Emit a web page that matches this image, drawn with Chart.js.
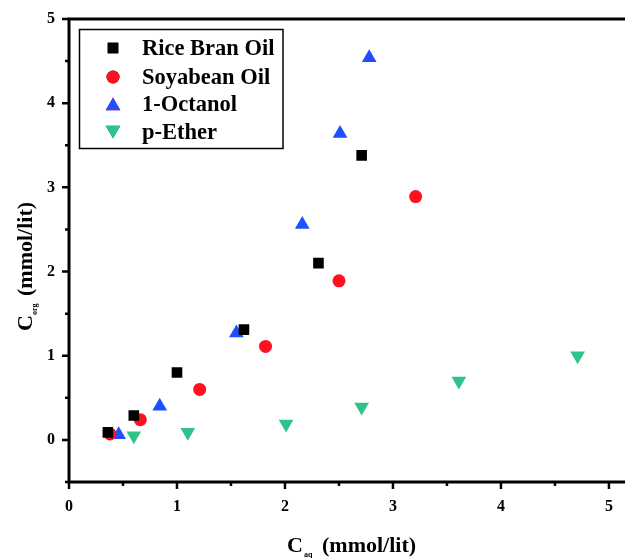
<!DOCTYPE html>
<html>
<head>
<meta charset="utf-8">
<script src="https://cdn.jsdelivr.net/npm/chart.js@4.4.1/dist/chart.umd.min.js"></script>
<style>
  html, body { margin: 0; padding: 0; background: #fff; overflow: hidden; }
  #wrap { width: 625px; height: 558px; position: relative; }
</style>
</head>
<body>
<div id="wrap"><canvas id="chart" width="625" height="558"></canvas></div>
<script>
// data
const riceX = [0.36, 0.60, 1.00, 1.62, 2.31, 2.71];
const riceY = [0.09, 0.29, 0.80, 1.31, 2.10, 3.38];
const soyX = [0.38, 0.66, 1.21, 1.82, 2.50, 3.21];
const soyY = [0.07, 0.24, 0.60, 1.11, 1.89, 2.89];
const octX = [0.46, 0.84, 1.55, 2.16, 2.51, 2.78];
const octY = [0.06, 0.40, 1.27, 2.56, 3.64, 4.54];
const etherX = [0.60, 1.10, 2.01, 2.71, 3.61, 4.71];
const etherY = [0.05, 0.09, 0.19, 0.39, 0.70, 1.00];

const seriesNames = ["Rice Bran Oil", "Soyabean Oil", "1-Octanol", "p-Ether"];
const xTicks = [0, 1, 2, 3, 4, 5];
const yTicks = [0, 1, 2, 3, 4, 5];
const xMinor = [0.5, 1.5, 2.5, 3.5, 4.5];
const yMinor = [-0.5, 0.5, 1.5, 2.5, 3.5, 4.5];

const serif = "'Liberation Serif', 'Times New Roman', serif";

function pts(xs, ys) {
    return xs.map((x, i) => ({ x: x, y: ys[i] }));
}

// frame, tick marks, axis titles and boxed legend
const extras = {
    id: "extras",
    afterDraw(chart) {
        const ctx = chart.ctx;
        const a = chart.chartArea;
        const xs = chart.scales.x;
        const ys = chart.scales.y;
        ctx.save();
        ctx.strokeStyle = "#000";
        ctx.lineWidth = 3;
        ctx.beginPath();
        ctx.moveTo(a.left, a.top);
        ctx.lineTo(chart.width, a.top);
        ctx.moveTo(a.left, a.top - 1.5);
        ctx.lineTo(a.left, a.bottom);
        ctx.lineTo(chart.width, a.bottom);
        ctx.stroke();

        ctx.lineWidth = 2.5;
        ctx.beginPath();
        xTicks.forEach(v => {
            const p = xs.getPixelForValue(v);
            ctx.moveTo(p, a.bottom); ctx.lineTo(p, a.bottom + 7);
        });
        xMinor.forEach(v => {
            const p = xs.getPixelForValue(v);
            ctx.moveTo(p, a.bottom); ctx.lineTo(p, a.bottom + 4);
        });
        yTicks.forEach(v => {
            const p = ys.getPixelForValue(v);
            ctx.moveTo(a.left, p); ctx.lineTo(a.left - 7, p);
        });
        yMinor.forEach(v => {
            const p = ys.getPixelForValue(v);
            ctx.moveTo(a.left, p); ctx.lineTo(a.left - 4, p);
        });
        ctx.stroke();

        // x title
        ctx.fillStyle = "#000";
        ctx.textBaseline = "alphabetic";
        ctx.textAlign = "left";
        ctx.font = "bold 22px " + serif;
        ctx.fillText("C", 287, 552);
        ctx.font = "bold 8px " + serif;
        ctx.fillText("aq", 304, 557);
        ctx.font = "bold 22px " + serif;
        ctx.fillText("(mmol/lit)", 322, 552);

        // y title
        ctx.save();
        ctx.translate(32, 0);
        ctx.rotate(-Math.PI / 2);
        ctx.font = "bold 22px " + serif;
        ctx.fillText("C", -331, 0);
        ctx.font = "bold 8px " + serif;
        ctx.fillText("org", -315, 5);
        ctx.font = "bold 22px " + serif;
        ctx.fillText("(mmol/lit)", -296, 0);
        ctx.restore();

        // legend
        ctx.lineWidth = 1.5;
        ctx.strokeRect(79.5, 29.5, 203.5, 119);
        const rows = [48, 77, 104, 132];
        chart.data.datasets.forEach((ds, i) => {
            Chart.helpers.drawPoint(ctx, {
                pointStyle: ds.pointStyle,
                radius: ds.pointRadius,
                rotation: ds.rotation || 0,
                borderWidth: 0
            }, 113, rows[i] + (ds.pointStyle === "triangle" ? (ds.rotation ? -2 : 2) : 0));
            ctx.fillStyle = ds.backgroundColor;
            ctx.fill();
        });
        ctx.fillStyle = "#000";
        ctx.font = "bold 22.5px " + serif;
        ctx.textBaseline = "middle";
        seriesNames.forEach((n, i) => {
            ctx.fillText(n, 142, rows[i] + 1);
        });
        ctx.restore();
    }
};

new Chart(document.getElementById("chart"), {
    type: "scatter",
    data: {
        datasets: [
            { label: seriesNames[0], data: pts(riceX, riceY), pointStyle: "rect", pointRadius: 7.5,
              backgroundColor: "#000000", borderWidth: 0 },
            { label: seriesNames[1], data: pts(soyX, soyY), pointStyle: "circle", pointRadius: 6.5,
              backgroundColor: "#ff1020", borderWidth: 0 },
            { label: seriesNames[2], data: pts(octX, octY), pointStyle: "triangle", pointRadius: 8.5,
              backgroundColor: "#1e50ff", borderWidth: 0 },
            { label: seriesNames[3], data: pts(etherX, etherY), pointStyle: "triangle", rotation: 180, pointRadius: 8.5,
              backgroundColor: "#2ec489", borderWidth: 0 }
        ]
    },
    options: {
        responsive: false,
        animation: false,
        maintainAspectRatio: false,
        layout: { padding: { top: 19, right: 0, left: 0, bottom: 0 } },
        plugins: {
            legend: { display: false },
            tooltip: { enabled: false }
        },
        elements: { point: { hoverRadius: 8 } },
        scales: {
            x: {
                type: "linear",
                min: 0,
                max: 5.07,
                grid: { display: false },
                border: { display: false },
                afterBuildTicks: s => { s.ticks = xTicks.map(v => ({ value: v })); },
                afterFit: s => { s.height = 76; },
                ticks: {
                    color: "#000",
                    padding: 7,
                    maxRotation: 0,
                    font: { family: serif, size: 16, weight: "bold" }
                }
            },
            y: {
                type: "linear",
                min: -0.5,
                max: 5,
                grid: { display: false },
                border: { display: false },
                afterBuildTicks: s => { s.ticks = yTicks.map(v => ({ value: v })); },
                afterFit: s => { s.width = 69; },
                ticks: {
                    color: "#000",
                    padding: 6,
                    font: { family: serif, size: 16, weight: "bold" }
                }
            }
        }
    },
    plugins: [extras]
});
</script>
</body>
</html>
